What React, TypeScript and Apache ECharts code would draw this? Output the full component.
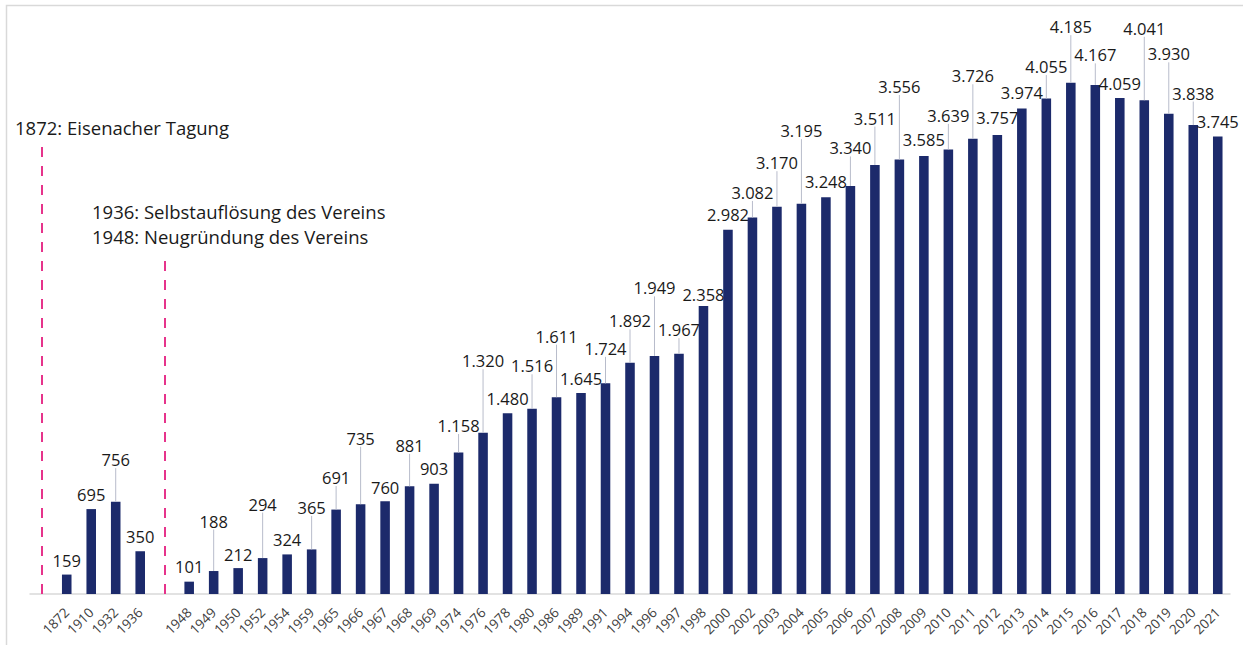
import React, { useEffect, useRef } from "react";
import * as echarts from "echarts";

// Categories ("" = empty slot used for the marker lines / gap)
const categories = [
  "", "1872", "1910", "1932", "1936", "",
  "1948", "1949", "1950", "1952", "1954", "1959", "1965", "1966", "1967", "1968", "1969",
  "1974", "1976", "1978", "1980", "1986", "1989", "1991", "1994", "1996", "1997", "1998",
  "2000", "2002", "2003", "2004", "2005", "2006", "2007", "2008", "2009", "2010", "2011",
  "2012", "2013", "2014", "2015", "2016", "2017", "2018", "2019", "2020", "2021",
];

// Member counts
const members: (number | null)[] = [
  null, 159, 695, 756, 350, null,
  101, 188, 212, 294, 324, 365, 691, 735, 760, 881, 903,
  1158, 1320, 1480, 1516, 1611, 1645, 1724, 1892, 1949, 1967, 2358,
  2982, 3082, 3170, 3195, 3248, 3340, 3511, 3556, 3585, 3639, 3726,
  3757, 3974, 4055, 4185, 4167, 4059, 4041, 3930, 3838, 3745,
];

// How far (px) each value label sits above its bar (Excel-style staggered labels)
const labelLift: number[] = [
  0, 14, 15, 42, 15, 0,
  15, 50, 14, 54, 15, 42, 32, 66, 14, 41, 15,
  27, 72, 15, 43, 61, 15, 35, 42, 68, 24, 11,
  15, 25, 44, 73, 16, 38, 47, 73, 16, 34, 63,
  17, 16, 32, 56, 30, 15, 72, 60, 32, 15,
];

// Vertical marker lines: category index and top (in value units)
const markerIndex = [0, 5];
const markerTop = [3675, 2800];

const annotations = [
  { text: "1872: Eisenacher Tagung", x: 15, y: 127 },
  { text: "1936: Selbstauflösung des Vereins", x: 92, y: 211 },
  { text: "1948: Neugründung des Vereins", x: 92, y: 236 },
];

const fmt = (v: number) => {
  if (v < 1000) return String(v);
  const r = v % 1000;
  return Math.floor(v / 1000) + "." + String(r).padStart(3, "0");
};

const FONT = "'Open Sans', 'Noto Sans', sans-serif";

export default function App() {
  const ref = useRef<HTMLDivElement>(null);
  useEffect(() => {
    if (!ref.current) return;
    const chart = echarts.init(ref.current, undefined, { renderer: "svg" });
    const labelData = members
      .map((v, i) => (v == null ? null : [i, v, labelLift[i]]))
      .filter((d) => d !== null);

    chart.setOption({
      animation: false,
      backgroundColor: "#ffffff",
      grid: { left: 30, right: 13, top: 44.2, bottom: 51, containLabel: false },
      xAxis: {
        type: "category",
        data: categories,
        boundaryGap: true,
        axisTick: { show: false },
        axisLine: { lineStyle: { color: "#d9d9d9", width: 1.5 } },
        axisLabel: {
          interval: 0,
          rotate: 45,
          margin: 16,
          color: "#404040",
          fontSize: 13.5,
          fontFamily: FONT,
        },
      },
      yAxis: {
        type: "value",
        min: 0,
        max: 4500,
        show: false,
        splitLine: { show: false },
      },
      graphic: [
        {
          type: "rect",
          shape: { x: 6.5, y: 5.5, width: 1400, height: 800 },
          style: { fill: "none", stroke: "#d9d9d9", lineWidth: 1.5 },
          silent: true,
        },
        ...annotations.map((a) => ({
          type: "text",
          x: a.x,
          y: a.y,
          style: {
            text: a.text,
            fill: "#1a1a1a",
            font: `18.5px ${FONT}`,
            verticalAlign: "middle",
            align: "left",
          },
        })),
      ],
      series: [
        {
          type: "bar",
          data: members,
          barWidth: "39%",
          itemStyle: { color: "#1c2a6b" },
          markLine: {
            silent: true,
            symbol: "none",
            label: { show: false },
            lineStyle: { color: "#e6338b", width: 2, type: [10, 9] },
            data: markerIndex.map((idx, k) => [
              { coord: [idx, 0] },
              { coord: [idx, markerTop[k]] },
            ]),
          },
        },
        {
          type: "custom",
          data: labelData,
          z: 5,
          renderItem: (params: any, api: any) => {
            const i = api.value(0);
            const v = api.value(1);
            const lift = api.value(2);
            const p = api.coord([i, v]);
            const cy = p[1] - lift;
            const children: any[] = [];
            if (lift > 20) {
              children.push({
                type: "line",
                shape: { x1: p[0], y1: p[1], x2: p[0], y2: cy + 8.5 },
                style: { stroke: "#b8bccb", lineWidth: 1 },
              });
            }
            children.push({
              type: "text",
              x: p[0],
              y: cy,
              style: {
                text: fmt(v),
                align: "center",
                verticalAlign: "middle",
                fill: "#1a1a1a",
                font: `16.5px ${FONT}`,
              },
            });
            return { type: "group", children };
          },
        },
      ],
    });
    return () => chart.dispose();
  }, []);
  return (
    <div
      ref={ref}
      style={{ position: "fixed", left: 0, top: 0, width: 1243, height: 645 }}
    />
  );
}
